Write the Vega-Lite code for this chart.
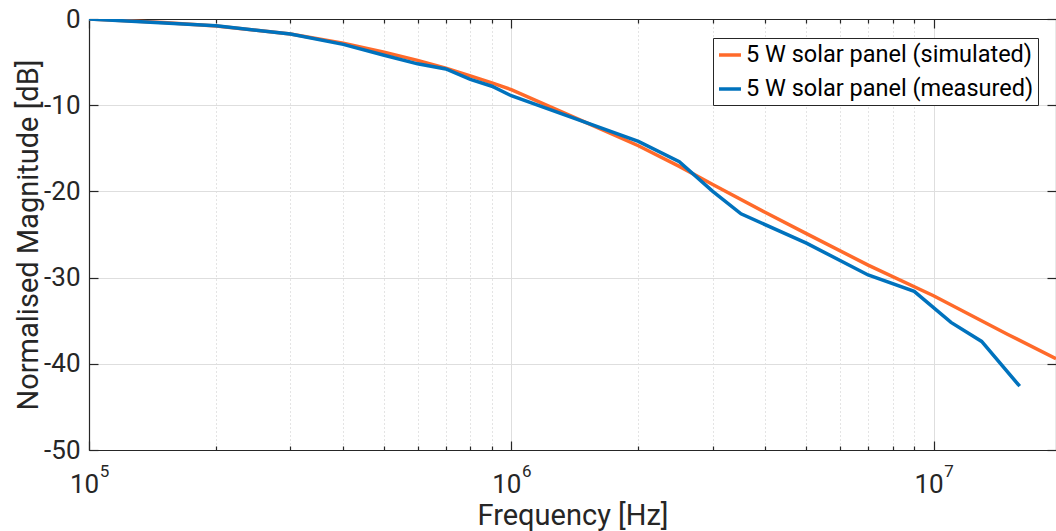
{
  "$schema": "https://vega.github.io/schema/vega-lite/v6.json",
  "width": 967,
  "height": 431,
  "autosize": {"type": "none"},
  "padding": {"left": 89, "top": 19, "right": 0, "bottom": 81},
  "background": "white",
  "config": {
    "view": {"stroke": null},
    "font": "Roboto",
    "axis": {"labelFont": "Roboto", "titleFont": "Roboto", "labelColor": "#262626", "titleColor": "#262626", "domainColor": "#262626", "tickColor": "#262626", "titleFontWeight": "normal"}
  },
  "data": {
    "values": [
      {"freq": 100000, "db": 0, "series": "5 W solar panel (simulated)"},
      {"freq": 150000, "db": -0.4, "series": "5 W solar panel (simulated)"},
      {"freq": 200000, "db": -0.8, "series": "5 W solar panel (simulated)"},
      {"freq": 300000, "db": -1.75, "series": "5 W solar panel (simulated)"},
      {"freq": 400000, "db": -2.8, "series": "5 W solar panel (simulated)"},
      {"freq": 500000, "db": -3.85, "series": "5 W solar panel (simulated)"},
      {"freq": 600000, "db": -4.8, "series": "5 W solar panel (simulated)"},
      {"freq": 700000, "db": -5.7, "series": "5 W solar panel (simulated)"},
      {"freq": 800000, "db": -6.6, "series": "5 W solar panel (simulated)"},
      {"freq": 900000, "db": -7.4, "series": "5 W solar panel (simulated)"},
      {"freq": 1000000, "db": -8.2, "series": "5 W solar panel (simulated)"},
      {"freq": 1500000, "db": -12.0, "series": "5 W solar panel (simulated)"},
      {"freq": 2000000, "db": -14.7, "series": "5 W solar panel (simulated)"},
      {"freq": 2500000, "db": -17.1, "series": "5 W solar panel (simulated)"},
      {"freq": 3000000, "db": -19.2, "series": "5 W solar panel (simulated)"},
      {"freq": 4000000, "db": -22.45, "series": "5 W solar panel (simulated)"},
      {"freq": 5000000, "db": -24.9, "series": "5 W solar panel (simulated)"},
      {"freq": 7000000, "db": -28.55, "series": "5 W solar panel (simulated)"},
      {"freq": 10000000, "db": -32.1, "series": "5 W solar panel (simulated)"},
      {"freq": 15000000, "db": -36.6, "series": "5 W solar panel (simulated)"},
      {"freq": 19500000, "db": -39.4, "series": "5 W solar panel (simulated)"},
      {"freq": 100000, "db": 0, "series": "5 W solar panel (measured)"},
      {"freq": 200000, "db": -0.78, "series": "5 W solar panel (measured)"},
      {"freq": 300000, "db": -1.74, "series": "5 W solar panel (measured)"},
      {"freq": 400000, "db": -2.94, "series": "5 W solar panel (measured)"},
      {"freq": 500000, "db": -4.2, "series": "5 W solar panel (measured)"},
      {"freq": 600000, "db": -5.2, "series": "5 W solar panel (measured)"},
      {"freq": 700000, "db": -5.8, "series": "5 W solar panel (measured)"},
      {"freq": 800000, "db": -7.0, "series": "5 W solar panel (measured)"},
      {"freq": 900000, "db": -7.8, "series": "5 W solar panel (measured)"},
      {"freq": 1000000, "db": -8.9, "series": "5 W solar panel (measured)"},
      {"freq": 2000000, "db": -14.2, "series": "5 W solar panel (measured)"},
      {"freq": 2500000, "db": -16.55, "series": "5 W solar panel (measured)"},
      {"freq": 3000000, "db": -20.0, "series": "5 W solar panel (measured)"},
      {"freq": 3500000, "db": -22.6, "series": "5 W solar panel (measured)"},
      {"freq": 5000000, "db": -26.0, "series": "5 W solar panel (measured)"},
      {"freq": 7000000, "db": -29.7, "series": "5 W solar panel (measured)"},
      {"freq": 9000000, "db": -31.6, "series": "5 W solar panel (measured)"},
      {"freq": 11000000, "db": -35.2, "series": "5 W solar panel (measured)"},
      {"freq": 13000000, "db": -37.4, "series": "5 W solar panel (measured)"},
      {"freq": 16000000, "db": -42.6, "series": "5 W solar panel (measured)"}
    ]
  },
  "layer": [
    {
      "mark": {"type": "line", "strokeWidth": 3.5, "clip": true},
      "encoding": {
        "x": {
          "field": "freq", "type": "quantitative",
          "scale": {"type": "log", "domain": [100000, 19500000], "nice": false},
          "axis": {
            "orient": "bottom",
            "values": [100000, 200000, 300000, 400000, 500000, 600000, 700000, 800000, 900000, 1000000, 2000000, 3000000, 4000000, 5000000, 6000000, 7000000, 8000000, 9000000, 10000000],
            "labelExpr": "datum.value == 100000 || datum.value == 1000000 || datum.value == 10000000 ? '10' : ''",
            "labelFontSize": 26,
            "labelPadding": 21.5,
            "labelOffset": -5,
            "labelFlush": false,
            "labelOverlap": false,
            "ticks": false,
            "grid": true,
            "gridColor": {"condition": {"test": "datum.value == 1000000 || datum.value == 10000000", "value": "#dedede"}, "value": "#c8c8c8"},
            "gridDash": {"condition": {"test": "datum.value == 1000000 || datum.value == 10000000", "value": []}, "value": [1, 3]},
            "domain": true,
            "domainWidth": 1.2,
            "title": "Frequency [Hz]",
            "titleFontSize": 29,
            "titlePadding": 4
          }
        },
        "y": {
          "field": "db", "type": "quantitative",
          "scale": {"domain": [-50, 0], "nice": false},
          "axis": {
            "orient": "left",
            "values": [-50, -40, -30, -20, -10, 0],
            "labelExpr": "datum.value == 0 ? '0' : '-' + abs(datum.value)",
            "labelFontSize": 26,
            "labelPadding": 9,
            "labelFlush": false,
            "labelOverlap": false,
            "ticks": false,
            "grid": true,
            "gridColor": "#dedede",
            "domain": true,
            "domainWidth": 1.2,
            "title": "Normalised Magnitude [dB]",
            "titleFontSize": 29,
            "titlePadding": 0
          }
        },
        "color": {
          "field": "series", "type": "nominal",
          "scale": {"domain": ["5 W solar panel (simulated)", "5 W solar panel (measured)"], "range": ["#FF6A2A", "#0072BD"]},
          "legend": {
            "orient": "none", "legendX": 624, "legendY": 19, "title": null,
            "strokeColor": "#262626", "fillColor": "white", "padding": 4,
            "labelFont": "Roboto", "labelFontSize": 23.5, "labelColor": "#000000",
            "symbolType": "stroke", "symbolStrokeWidth": 3.5, "symbolSize": 484,
            "rowPadding": 9, "labelOffset": 3, "cornerRadius": 0, "labelLimit": 400
          }
        }
      }
    },
    {
      "mark": {"type": "line", "opacity": 0},
      "encoding": {
        "x": {
          "field": "freq", "type": "quantitative",
          "axis": {
            "orient": "bottom",
            "values": [100000, 200000, 300000, 400000, 500000, 600000, 700000, 800000, 900000, 1000000, 2000000, 3000000, 4000000, 5000000, 6000000, 7000000, 8000000, 9000000, 10000000],
            "labels": false, "grid": false, "domain": false, "title": null,
            "tickSize": {"condition": {"test": "datum.value == 100000 || datum.value == 1000000 || datum.value == 10000000", "value": -9}, "value": -4},
            "tickWidth": 1.2
          }
        },
        "y": {
          "field": "db", "type": "quantitative",
          "axis": {
            "orient": "right",
            "values": [-50, -40, -30, -20, -10, 0],
            "labels": false, "grid": false, "domain": true, "domainWidth": 1.2, "title": null,
            "tickSize": -9, "tickWidth": 1.2
          }
        }
      }
    },
    {
      "mark": {"type": "line", "opacity": 0},
      "encoding": {
        "x": {
          "field": "freq", "type": "quantitative",
          "axis": {
            "orient": "top",
            "values": [100000, 200000, 300000, 400000, 500000, 600000, 700000, 800000, 900000, 1000000, 2000000, 3000000, 4000000, 5000000, 6000000, 7000000, 8000000, 9000000, 10000000],
            "labels": false, "grid": false, "domain": true, "domainWidth": 1.2, "title": null,
            "tickSize": {"condition": {"test": "datum.value == 100000 || datum.value == 1000000 || datum.value == 10000000", "value": -9}, "value": -4},
            "tickWidth": 1.2
          }
        },
        "y": {
          "field": "db", "type": "quantitative",
          "axis": {
            "orient": "left",
            "values": [-50, -40, -30, -20, -10, 0],
            "labels": false, "grid": false, "domain": false, "title": null,
            "tickSize": -9, "tickWidth": 1.2
          }
        }
      }
    },
    {
      "mark": {"type": "line", "opacity": 0},
      "encoding": {
        "x": {
          "field": "freq", "type": "quantitative",
          "axis": {
            "orient": "bottom",
            "values": [100000, 1000000, 10000000],
            "labelExpr": "datum.value == 100000 ? '5' : datum.value == 1000000 ? '6' : '7'",
            "labelFontSize": 17,
            "labelPadding": 13.5,
            "labelOffset": 15,
            "labelFlush": false,
            "labelOverlap": false,
            "ticks": false, "grid": false, "domain": false, "title": null
          }
        },
        "y": {
          "field": "db", "type": "quantitative",
          "axis": null
        }
      }
    }
  ],
  "resolve": {"axis": {"x": "independent", "y": "independent"}}
}
